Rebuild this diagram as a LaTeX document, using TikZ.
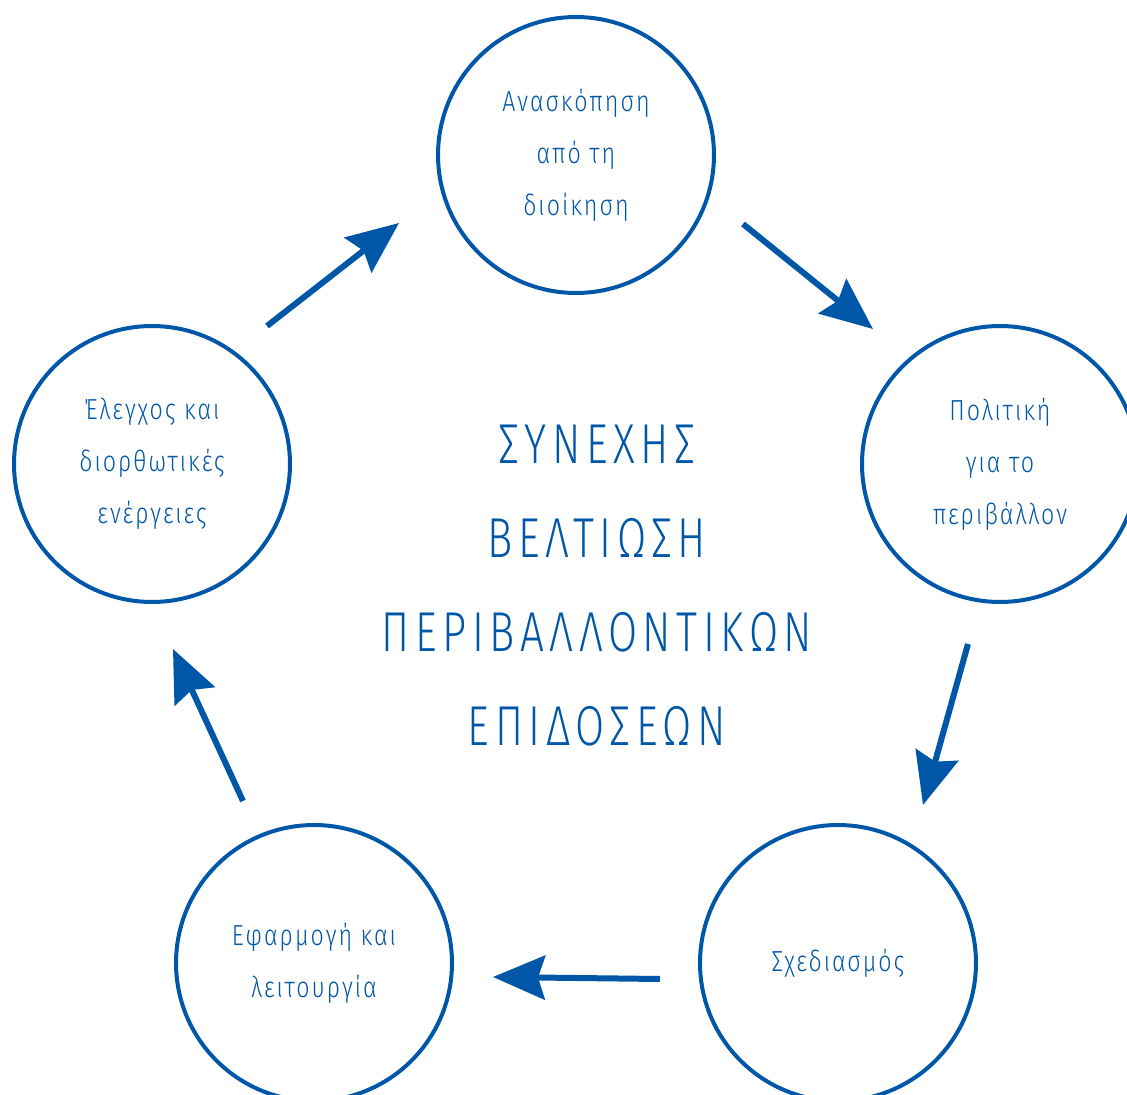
\documentclass[tikz,border=0pt]{standalone}
\usepackage{fontspec}
\setmainfont{Fira Sans Light}
\newfontfamily\stagefont{Fira Sans Light}[FakeStretch=0.8,LetterSpace=7]
\newfontfamily\titlefont{Fira Sans Light}[FakeStretch=0.75,LetterSpace=10]
\usetikzlibrary{arrows.meta}
\definecolor{envblue}{RGB}{0,87,168}
\tikzset{
    stage/.style={circle,draw=envblue,line width=0.08cm,fill=white,minimum size=5.52cm,inner sep=0pt,
        text=envblue,align=center,font=\stagefont\fontsize{16.5}{29.6}\selectfont},
    flow/.style={draw=envblue,line width=0.12cm,-{Stealth[length=1.04cm,width=0.88cm,inset=0.14cm]},color=envblue},
    title/.style={text=envblue,align=center,font=\titlefont\fontsize{32}{53.5}\selectfont}
}
\begin{document}
\begin{tikzpicture}[x=0.02cm,y=-0.02cm]
            \useasboundingbox (0,0) rectangle (1127,1095);
            \node[stage] (review) at (576,155) {Ανασκόπηση\\από τη\\διοίκηση};
            \node[stage] (policy) at (1000,464) {Πολιτική\\για το\\περιβάλλον};
            \node[stage] (plan) at (838,963) {Σχεδιασμός};
            \node[stage] (run) at (314,963) {Εφαρμογή και\\λειτουργία};
            \node[stage] (check) at (152,464) {Έλεγχος και\\διορθωτικές\\ενέργειες};
            \node[title] (goal) at (597,586) {ΣΥΝΕΧΗΣ\\ΒΕΛΤΙΩΣΗ\\ΠΕΡΙΒΑΛΛΟΝΤΙΚΩΝ\\ΕΠΙΔΟΣΕΩΝ};
            \coordinate (c1) at (267,326);
            \coordinate (r1) at (399,223);
            \coordinate (r2) at (743,224);
            \coordinate (p1) at (873,329);
            \coordinate (p2) at (968,644);
            \coordinate (s1) at (923,805);
            \coordinate (s2) at (660,979);
            \coordinate (e1) at (493,977);
            \coordinate (e2) at (243,801);
            \coordinate (c2) at (173,649);
            \draw[flow] (c1) -- (r1);
            \draw[flow] (r2) -- (p1);
            \draw[flow] (p2) -- (s1);
            \draw[flow] (s2) -- (e1);
            \draw[flow] (e2) -- (c2);
        \end{tikzpicture}
\end{document}
